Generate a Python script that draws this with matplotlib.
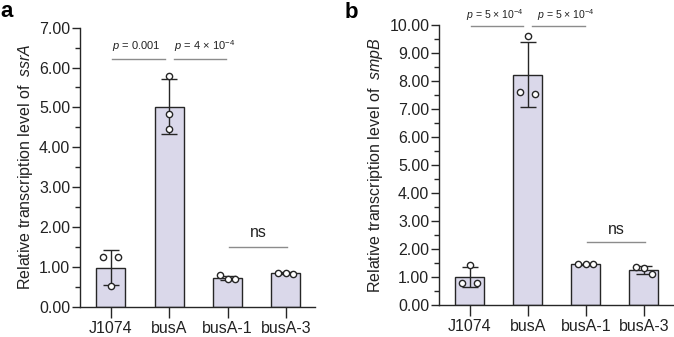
import numpy as np
import matplotlib
matplotlib.use('Agg')
import matplotlib.pyplot as plt

plt.rcParams['font.family'] = ['Liberation Sans', 'DejaVu Sans']
plt.rcParams['mathtext.fontset'] = 'custom'
plt.rcParams['mathtext.rm'] = 'Liberation Sans'
plt.rcParams['mathtext.it'] = 'Liberation Sans:italic'

# Data
groups = ['J1074', 'busA', 'busA-1', 'busA-3']

ssrA_mean = [0.98, 5.02, 0.72, 0.84]
ssrA_sd = [0.43, 0.70, 0.06, 0.02]
ssrA_points = [[1.24, 0.51, 1.24], [5.79, 4.84, 4.45], [0.80, 0.70, 0.69], [0.84, 0.84, 0.83]]
ssrA_dx = [[-1, 0, 1], [0, 0, 0], [-1, 0, 1], [-1, 0, 1]]

smpB_mean = [1.00, 8.23, 1.45, 1.25]
smpB_sd = [0.36, 1.17, 0.03, 0.13]
smpB_points = [[0.80, 1.42, 0.80], [7.62, 9.60, 7.55], [1.47, 1.47, 1.46], [1.35, 1.32, 1.12]]
smpB_dx = [[-1, 0, 1], [-1, 0, 1], [-1, 0, 1], [-1, 0, 1]]

bar_color = '#dad8ea'
edge = '#262626'
grey = '#8c8c8c'
txt = '#222222'

fig = plt.figure(figsize=(6.74, 3.37), dpi=100)
ax1 = fig.add_axes([0.1187, 0.0899, 0.3487, 0.828])
ax2 = fig.add_axes([0.6513, 0.095, 0.3472, 0.831])


def draw_panel(ax, mean, sd, points, dx, ymax, gene):
    x = np.arange(len(groups))
    ax.bar(x, mean, width=0.5, color=bar_color, edgecolor=edge, linewidth=1.0, zorder=2)
    ax.errorbar(x, mean, yerr=sd, fmt='none', ecolor=edge, elinewidth=1.0,
                capsize=5.5, capthick=1.0, zorder=3)
    for i, pts in enumerate(points):
        ax.plot(x[i] + 0.13 * np.array(dx[i]), pts, 'o', mfc='white', mec=edge,
                mew=1.0, ms=4.5, zorder=4, linestyle='none')
    ax.set_xlim(-0.53, 3.5)
    ax.set_ylim(0, ymax)
    ticks = np.arange(0, ymax + 0.01, 1.0)
    ax.set_yticks(ticks)
    ax.set_yticklabels(['%.2f' % v for v in ticks])
    ax.set_yticks(np.arange(0.5, ymax, 1.0), minor=True)
    ax.set_xticks(x)
    ax.set_xticklabels(groups)
    for s in ['top', 'right']:
        ax.spines[s].set_visible(False)
    for s in ['left', 'bottom']:
        ax.spines[s].set_color(edge)
        ax.spines[s].set_linewidth(1.0)
    ax.tick_params(axis='y', which='major', length=6, width=1.0, color=edge,
                   labelsize=11.5, labelcolor=txt, pad=1)
    ax.tick_params(axis='y', which='minor', length=3.5, width=1.0, color=edge)
    ax.tick_params(axis='x', which='major', length=8, width=1.0, color=edge,
                   labelsize=11.5, labelcolor=txt, pad=2)
    ax.set_ylabel('Relative transcription level of  $\\it{%s}$' % gene,
                  fontsize=11.5, color=txt, labelpad=3)


draw_panel(ax1, ssrA_mean, ssrA_sd, ssrA_points, ssrA_dx, 7, 'ssrA')
draw_panel(ax2, smpB_mean, smpB_sd, smpB_points, smpB_dx, 10, 'smpB')


def sig(ax, x0, x1, y, tx, ty, text, fs=8.0, ha='left'):
    ax.plot([x0, x1], [y, y], color=grey, lw=1.0, clip_on=False)
    ax.text(tx, ty, text, ha=ha, va='center', fontsize=fs,
            color=txt, clip_on=False)


# panel a annotations
sig(ax1, 0.02, 0.92, 6.22, 0.02, 6.55, '$p$ = 0.001')
sig(ax1, 1.08, 1.98, 6.22, 1.08, 6.55, '$p$ = 4 × 10$^{-4}$')
sig(ax1, 2.02, 3.02, 1.50, 2.52, 1.87, 'ns', fs=11.5, ha='center')

# panel b annotations
sig(ax2, 0.02, 0.92, 9.96, -0.06, 10.35, '$p$ = 5 × 10$^{-4}$', fs=7.6)
sig(ax2, 1.08, 1.98, 9.96, 1.15, 10.35, '$p$ = 5 × 10$^{-4}$', fs=7.6)
sig(ax2, 2.02, 3.02, 2.24, 2.52, 2.70, 'ns', fs=11.5, ha='center')

fig.text(0.0, 0.965, 'a', fontsize=16, fontweight='bold', va='center', ha='left')
fig.text(0.511, 0.962, 'b', fontsize=16, fontweight='bold', va='center', ha='left')

fig.savefig('out.png', dpi=100)
